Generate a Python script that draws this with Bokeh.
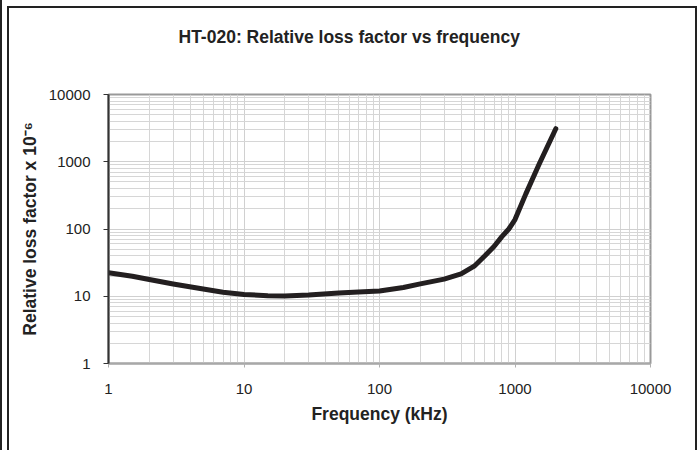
from bokeh.plotting import figure
from bokeh.models import Range1d, FixedTicker, NumeralTickFormatter, Title
from bokeh.embed import file_html
from bokeh.resources import INLINE

# Data
freq_khz = [1, 1.5, 2, 3, 5, 7, 10, 15, 20, 30, 50, 70, 100, 150, 200, 300, 400,
            500, 600, 700, 800, 900, 1000, 1200, 1500, 2000]
loss_factor = [22.3, 19.8, 17.7, 15.2, 12.8, 11.5, 10.6, 10.2, 10.1, 10.4, 11.2, 11.6, 12.0,
               13.5, 15.3, 18.0, 21.5, 28, 40, 55, 77, 100, 138, 330, 900, 3100]
x_ticks = [1, 10, 100, 1000, 10000]
y_ticks = [1, 10, 100, 1000, 10000]

title_text = "HT-020: Relative loss factor vs frequency"
x_label = "Frequency (kHz)"
y_label = "Relative loss factor x 10\u207b\u2076"

FONT = "Liberation Sans"
TXT = "#222222"

p = figure(width=686, height=442, x_axis_type="log", y_axis_type="log",
           x_range=Range1d(1, 10000), y_range=Range1d(1, 10000),
           output_backend="svg", toolbar_location=None,
           min_border_left=99, min_border_right=49, min_border_top=86, min_border_bottom=89)
p.styles = {
    "box-sizing": "content-box",
    "margin-left": "7px",
    "margin-top": "6px",
    "border-top": "2px solid #222222",
    "border-left": "2px solid #222222",
    "border-right": "2px solid #222222",
    "box-shadow": "1px 0 0 6px #ffffff, -1px 0 0 6px #222222",
}

# main title (outermost) plus an empty spacer title between it and the frame
p.title.text = title_text
p.title.align = "left"
p.title.offset = 70
p.title.standoff = 10
p.title.text_font = FONT
p.title.text_font_size = "17.5px"
p.title.text_font_style = "bold"
p.title.text_color = TXT
p.add_layout(Title(text=" ", text_font_size="1px", standoff=40), "above")

minor = [m * 10 ** e for e in range(0, 4) for m in range(2, 10)]

for grid in (p.xgrid, p.ygrid):
    grid.ticker = FixedTicker(ticks=x_ticks, minor_ticks=minor)
    grid.grid_line_color = "#d0d0d0"
    grid.grid_line_width = 1
    grid.minor_grid_line_color = "#d6d6d6"
    grid.minor_grid_line_width = 1

p.xaxis.ticker = FixedTicker(ticks=x_ticks)
p.yaxis.ticker = FixedTicker(ticks=y_ticks)
for ax in (p.xaxis, p.yaxis):
    ax.formatter = NumeralTickFormatter(format="0")
    ax.minor_tick_line_color = None
    ax.major_tick_in = 0
    ax.major_label_text_font = FONT
    ax.major_label_text_font_size = "15px"
    ax.major_label_text_color = TXT
    ax.axis_label_text_font = FONT
    ax.axis_label_text_font_size = "17.5px"
    ax.axis_label_text_font_style = "bold"
    ax.axis_label_text_color = TXT

p.xaxis.axis_label = x_label
p.xaxis.axis_line_color = "#a8a8a8"
p.xaxis.axis_line_width = 2
p.xaxis.major_tick_line_color = "#b0b0b0"
p.xaxis.major_tick_out = 4
p.xaxis.major_label_standoff = 16
p.xaxis.axis_label_standoff = 7

p.yaxis.axis_label = y_label
p.yaxis.axis_line_color = "#333333"
p.yaxis.axis_line_width = 2
p.yaxis.major_tick_line_color = "#333333"
p.yaxis.major_tick_out = 5
p.yaxis.major_label_standoff = 13
p.yaxis.axis_label_standoff = 6

p.outline_line_color = "#999999"
p.outline_line_width = 2

p.line(freq_khz, loss_factor, line_width=5, line_color="#231f20",
       line_join="round", line_cap="round")

open("out.html", "w").write(file_html(p, INLINE))
